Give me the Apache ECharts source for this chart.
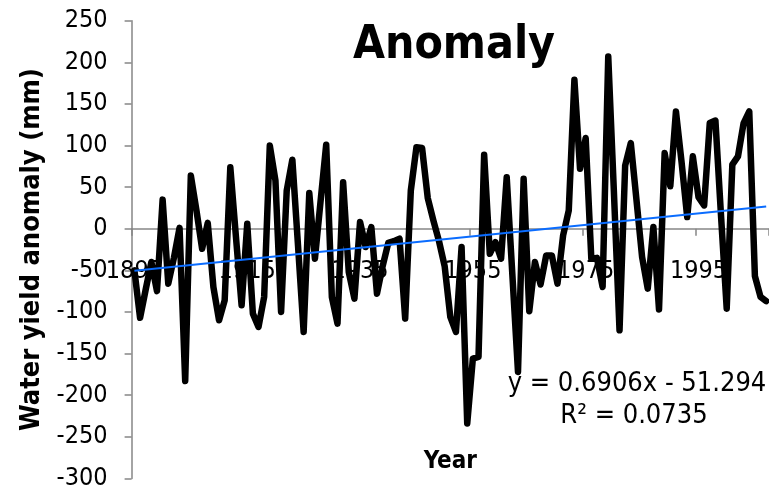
<!DOCTYPE html>
<html>
<head>
<meta charset="utf-8">
<script src="https://cdn.jsdelivr.net/npm/echarts@6/dist/echarts.min.js"></script>
<style>
  html, body { margin: 0; padding: 0; background: #fff; }
  #chart { width: 769px; height: 489px; }
</style>
</head>
<body>
<div id="chart"></div>
<script>
// water yield anomaly (mm), one value per year 1895-2007
var firstYear = 1895;
var lastYear = 2007;
var anomaly = [
  -50, -107, -73, -40, -75, 35, -66, -35, 1, -183,
  64, 22, -24, 7, -70, -110, -86, 74, -10, -92,
  6, -102, -118, -82, 100, 58, -100, 46, 83, -20,
  -124, 43, -36, 33, 101, -82, -114, 56, -52, -84,
  8, -22, 2, -78, -45, -17, -15, -12, -108, 46,
  98, 97, 37, 10, -15, -45, -106, -124, -22, -234,
  -156, -154, 89, -30, -16, -36, 62, -55, -172, 60,
  -99, -40, -67, -32, -32, -66, -8, 22, 179, 72,
  109, -36, -35, -70, 207, 45, -122, 76, 103, 35,
  -34, -72, 2, -97, 91, 51, 141, 80, 14, 87,
  38, 28, 127, 130, 15, -96, 77, 87, 127, 141,
  -57, -82, -87
];
// linear trend shown on the chart (x = 1..n)
var trendSlope = 0.6906;
var trendIntercept = -51.294;
var trendLabel = ['y = 0.6906x - 51.294', 'R\u00b2 = 0.0735'];
var yMin = -300, yMax = 250, yStep = 50;
var labelEvery = 20;

var years = [];
for (var y = firstYear; y <= lastYear; y++) {
  years.push(String(y));
}
var n = years.length;
var trend = [
  [years[0], trendSlope * 1 + trendIntercept],
  [years[n - 1], trendSlope * n + trendIntercept]
];

var font = '"DejaVu Sans Condensed", "DejaVu Sans", sans-serif';
var axisGray = '#868686';

// grid geometry, the x axis is drawn where y = 0
var gridTop = 20.7, gridBottom = 10.6, chartH = 489;
var plotH = chartH - gridTop - gridBottom;
var zeroOffset = -plotH * (0 - yMin) / (yMax - yMin);

var option = {
  backgroundColor: '#fff',
  animation: false,
  title: {
    text: 'Anomaly',
    left: 449,
    top: 18,
    textAlign: 'center',
    textStyle: { fontFamily: font, fontWeight: 'bold', fontSize: 46, color: '#000' }
  },
  grid: {
    left: 131.6,
    right: 0,
    top: gridTop,
    bottom: gridBottom,
    containLabel: false,
    outerBoundsMode: 'none'
  },
  xAxis: {
    type: 'category',
    data: years,
    boundaryGap: true,
    position: 'bottom',
    offset: zeroOffset,
    name: 'Year',
    nameLocation: 'middle',
    nameGap: 221,
    nameTextStyle: { fontFamily: font, fontWeight: 'bold', fontSize: 24, color: '#000' },
    axisLine: { onZero: false, lineStyle: { color: axisGray, width: 1.5 } },
    axisTick: { show: true, interval: labelEvery - 1, length: 7, lineStyle: { color: axisGray, width: 1.5 } },
    axisLabel: {
      interval: labelEvery - 1,
      margin: 30,
      fontFamily: font,
      fontSize: 25,
      color: '#000',
      hideOverlap: false
    },
    splitLine: { show: false }
  },
  yAxis: {
    type: 'value',
    min: yMin,
    max: yMax,
    interval: yStep,
    name: 'Water yield anomaly (mm)',
    nameLocation: 'middle',
    nameGap: 74,
    nameTextStyle: { fontFamily: font, fontWeight: 'bold', fontSize: 27, color: '#000' },
    axisLine: { show: true, lineStyle: { color: axisGray, width: 1.5 } },
    axisTick: { show: true, length: 7, lineStyle: { color: axisGray, width: 1.5 } },
    axisLabel: { margin: 24, fontFamily: font, fontSize: 25, color: '#000' },
    splitLine: { show: false }
  },
  series: [
    {
      name: 'Anomaly',
      type: 'line',
      data: anomaly,
      symbol: 'none',
      lineStyle: { color: '#000', width: 6.5, cap: 'round', join: 'round' },
      z: 2
    },
    {
      name: 'Trend',
      type: 'line',
      data: trend,
      symbol: 'none',
      lineStyle: { color: '#0a6cff', width: 2 },
      z: 3
    }
  ],
  graphic: [
    {
      type: 'text',
      x: 637,
      y: 370,
      style: {
        text: trendLabel[0],
        fontFamily: font,
        fontSize: 27,
        align: 'center',
        verticalAlign: 'top',
        fill: '#000'
      }
    },
    {
      type: 'text',
      x: 634,
      y: 402,
      style: {
        text: trendLabel[1],
        fontFamily: font,
        fontSize: 27,
        align: 'center',
        verticalAlign: 'top',
        fill: '#000'
      }
    }
  ]
};

var myChart = echarts.init(document.getElementById('chart'));
myChart.setOption(option);
</script>
</body>
</html>
